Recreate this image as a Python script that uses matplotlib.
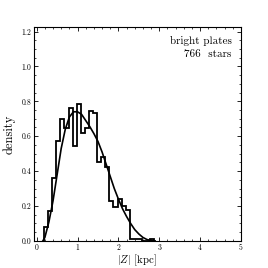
import matplotlib
matplotlib.use("Agg")
import matplotlib.pyplot as plt
from matplotlib.ticker import MultipleLocator

plt.rcParams['font.family'] = 'serif'
plt.rcParams['font.serif'] = ['cmr10', 'DejaVu Serif']
plt.rcParams['mathtext.fontset'] = 'cm'
plt.rcParams['axes.formatter.use_mathtext'] = True

# histogram (density per bin)
bin_edges = [0.18, 0.28, 0.38, 0.48, 0.58, 0.68, 0.78, 0.88, 0.98, 1.08,
             1.18, 1.28, 1.38, 1.48, 1.58, 1.68, 1.78, 1.88, 1.98, 2.08,
             2.18, 2.28, 2.38, 2.48, 2.58, 2.68, 2.78, 2.88]
hist_density = [0.08, 0.17, 0.36, 0.57, 0.70, 0.645, 0.76, 0.545, 0.785, 0.62,
                0.645, 0.745, 0.735, 0.45, 0.48, 0.425, 0.23, 0.195, 0.24, 0.20,
                0.18, 0.013, 0.013, 0.013, 0.0, 0.0, 0.013]

# model curve
curve_z = [0.15, 0.2, 0.3, 0.4, 0.5, 0.6, 0.7, 0.8, 0.9, 1.0, 1.1, 1.2, 1.3,
           1.4, 1.5, 1.6, 1.7, 1.8, 1.9, 2.0, 2.1, 2.2, 2.3, 2.4, 2.5, 2.6,
           2.7, 2.8, 2.9]
curve_density = [0.0, 0.02, 0.11, 0.23, 0.38, 0.53, 0.64, 0.71, 0.74, 0.74,
                 0.725, 0.69, 0.655, 0.615, 0.57, 0.51, 0.44, 0.37, 0.30, 0.24,
                 0.185, 0.14, 0.10, 0.065, 0.04, 0.02, 0.008, 0.002, 0.0]

fig = plt.figure(figsize=(2.68, 2.68), dpi=100)
ax = fig.add_axes([0.127, 0.101, 0.772, 0.799])

ax.stairs(hist_density, bin_edges, color='black', linewidth=1.3, baseline=0)
ax.plot(curve_z, curve_density, color='black', linewidth=1.2)

ax.set_xlim(-0.065, 5.0)
ax.set_ylim(0.0, 1.227)
ax.xaxis.set_major_locator(MultipleLocator(1))
ax.xaxis.set_minor_locator(MultipleLocator(0.2))
ax.yaxis.set_major_locator(MultipleLocator(0.2))
ax.yaxis.set_minor_locator(MultipleLocator(0.05))
ax.xaxis.set_major_formatter(matplotlib.ticker.FormatStrFormatter('%d'))
ax.yaxis.set_major_formatter(matplotlib.ticker.FormatStrFormatter('%.1f'))
ax.tick_params(which='both', direction='in', top=True, right=True, labelsize=5.5, pad=2)
ax.tick_params(which='major', length=3, width=0.6)
ax.tick_params(which='minor', length=1.5, width=0.5)
for s in ax.spines.values():
    s.set_linewidth(0.8)

ax.set_xlabel(r'$|Z|$ [kpc]', fontsize=7.8, labelpad=0)
ax.set_ylabel('density', fontsize=9, labelpad=4)

ax.text(0.955, 0.955, 'bright plates\n766  stars', transform=ax.transAxes,
        ha='right', va='top', fontsize=8, linespacing=1.45)

fig.savefig('out.png', dpi=100)
